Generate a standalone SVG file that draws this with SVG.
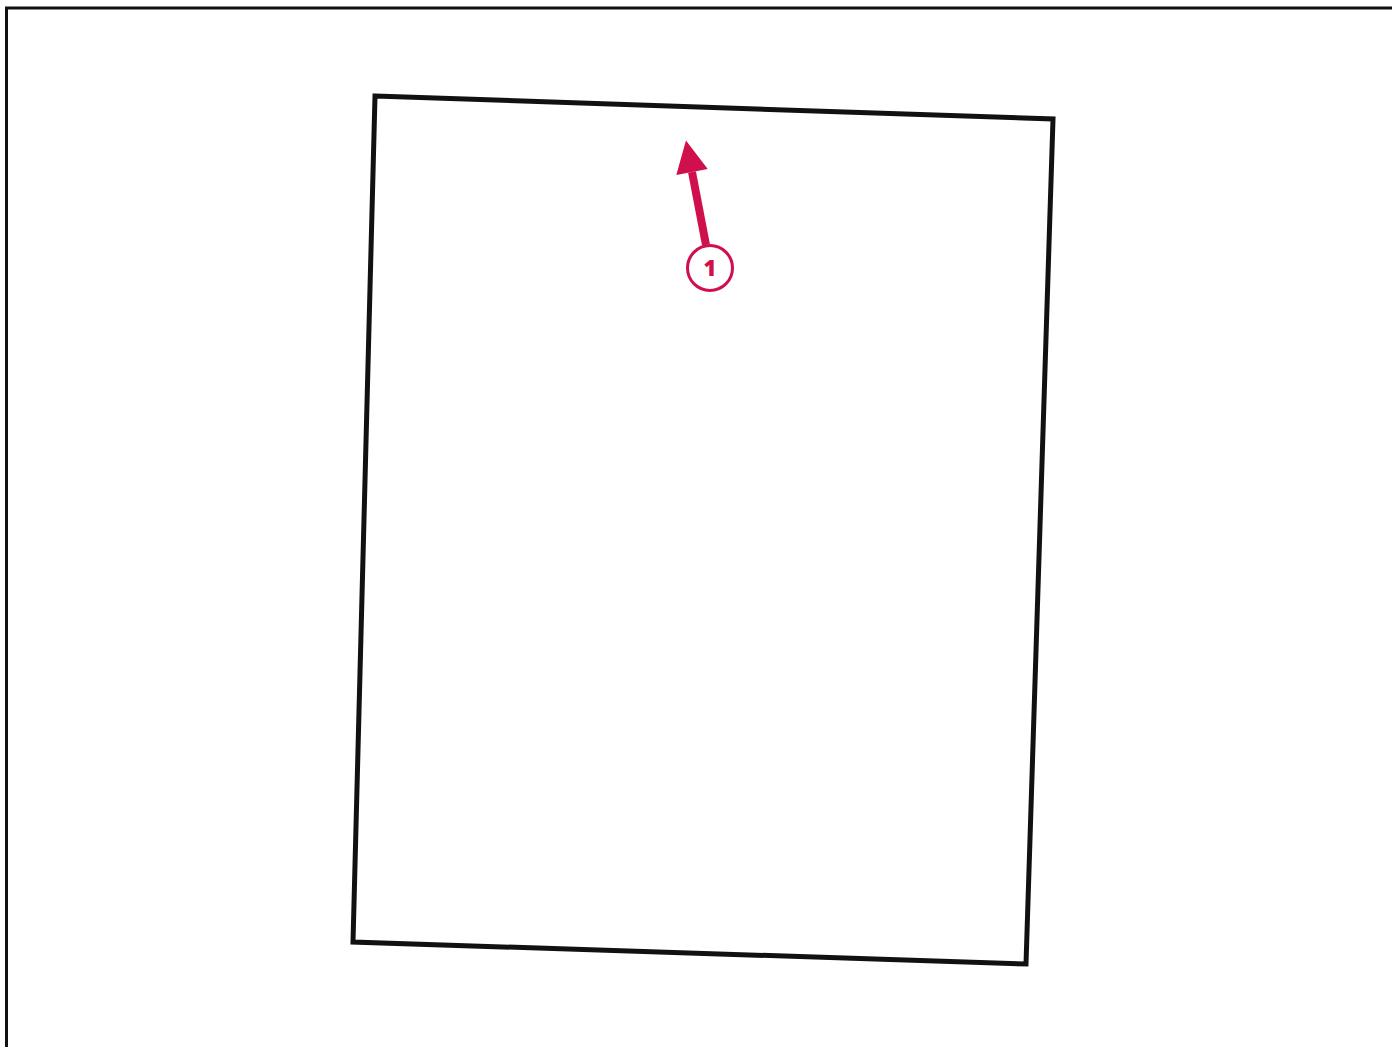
<svg xmlns="http://www.w3.org/2000/svg" width="1392" height="1047" viewBox="0 0 1392 1047">
<style>
.frame{fill:none;stroke:#111;stroke-width:3}
.box{fill:#fff;stroke:#111;stroke-width:5;stroke-linejoin:miter}
.acc{stroke:#D0104C;fill:none}
.num{font-family:"Open Sans","Liberation Sans",sans-serif;font-weight:800;font-size:22px;fill:#D0104C;text-anchor:middle}
</style>
<defs>
<marker id="ah" markerUnits="userSpaceOnUse" markerWidth="40" markerHeight="40" refX="0" refY="0" viewBox="-4 -20 40 40" orient="auto" overflow="visible">
<path d="M32,0 L0,-16 L0,16 Z" fill="#D0104C"/>
</marker>
</defs>
<rect width="1392" height="1047" fill="#fff"/>
<path class="frame" d="M6.5,1047 V8 H1392"/>
<g id="page">
<path class="box" d="M375,96 L1053,119 L1026,964 L353,942 Z"/>
</g>
<g id="connectors">
<line class="acc" x1="706" y1="245" x2="692" y2="172" stroke-width="8" marker-end="url(#ah)"/>
</g>
<g id="callout-1">
<circle class="acc" cx="710" cy="268" r="22.5" stroke-width="3" fill="#fff"/>
<text class="num" x="710" y="276">1</text>
</g>
</svg>
